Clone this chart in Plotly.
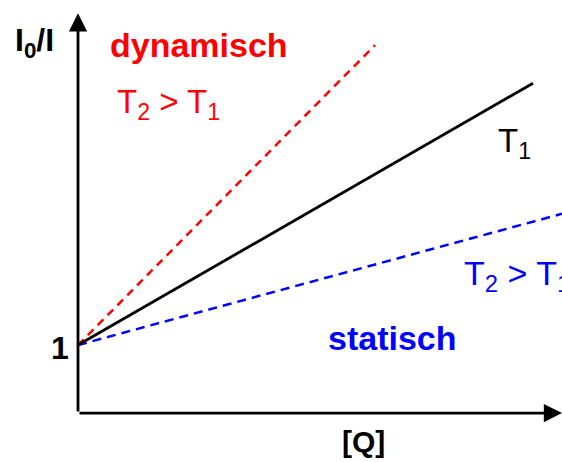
import plotly.graph_objects as go

W, H = 562, 462

# Data (arbitrary units): [Q] and I0/I
q_black = [0, 4.55]
i_black = [1, 4.85]
q_red = [0, 2.97]
i_red = [1, 5.41]
q_blue = [0, 4.84]
i_blue = [1, 2.93]

x_axis_end = 4.84
y_axis_end = 5.88
x_range = [-0.78, 4.84]
y_range = [-0.72, 6.074]

FONT = "Liberation Sans, Arial, sans-serif"

fig = go.Figure()
fig.add_trace(go.Scatter(x=q_red, y=i_red, mode="lines",
                         line=dict(color="#ff0000", width=2.5, dash="8px,6px"), hoverinfo="skip"))
fig.add_trace(go.Scatter(x=q_blue, y=i_blue, mode="lines",
                         line=dict(color="#0000ff", width=2.5, dash="9px,6px"), hoverinfo="skip"))
fig.add_trace(go.Scatter(x=q_black, y=i_black, mode="lines",
                         line=dict(color="#000000", width=2.8), hoverinfo="skip"))

# axes with arrows
for (tx, ty) in [(x_axis_end, 0), (0, y_axis_end)]:
    fig.add_annotation(x=tx, y=ty, ax=0, ay=0, xref="x", yref="y", axref="x", ayref="y",
                       text="", showarrow=True, arrowhead=2, arrowsize=1.3, arrowwidth=2.8,
                       arrowcolor="black", standoff=0)

def px(x):
    return x / W

def py(y):
    return 1 - y / H

texts = [
    ("<b>I<sub>0</sub>/I</b>", 13, 42, "left", "black", 32),
    ("<b>dynamisch</b>", 108, 45, "left", "#ff0000", 34),
    ("T<sub>2</sub> > T<sub>1</sub>", 115, 104, "left", "#ff0000", 33),
    ("T<sub>1</sub>", 496, 143, "left", "black", 33),
    ("T<sub>2</sub> > T<sub>1</sub>", 462, 275, "left", "#0000ff", 34),
    ("<b>statisch</b>", 326, 338, "left", "#0000ff", 34),
    ("<b>1</b>", 60, 348, "center", "black", 32),
    ("<b>[Q]</b>", 363, 441, "center", "black", 30),
]
for t, x, y, anc, col, sz in texts:
    fig.add_annotation(x=px(x), y=py(y), xref="paper", yref="paper", text=t, showarrow=False,
                       xanchor=anc, yanchor="middle", font=dict(family=FONT, size=sz, color=col))

fig.update_layout(width=W, height=H, margin=dict(l=0, r=0, t=0, b=0, autoexpand=False),
                  paper_bgcolor="white", plot_bgcolor="white", showlegend=False,
                  xaxis=dict(range=x_range, visible=False, fixedrange=True),
                  yaxis=dict(range=y_range, visible=False, fixedrange=True))
fig.write_html("out.html", config={"displayModeBar": False},
               post_script="document.body.style.margin='0';document.body.style.overflow='hidden';")
